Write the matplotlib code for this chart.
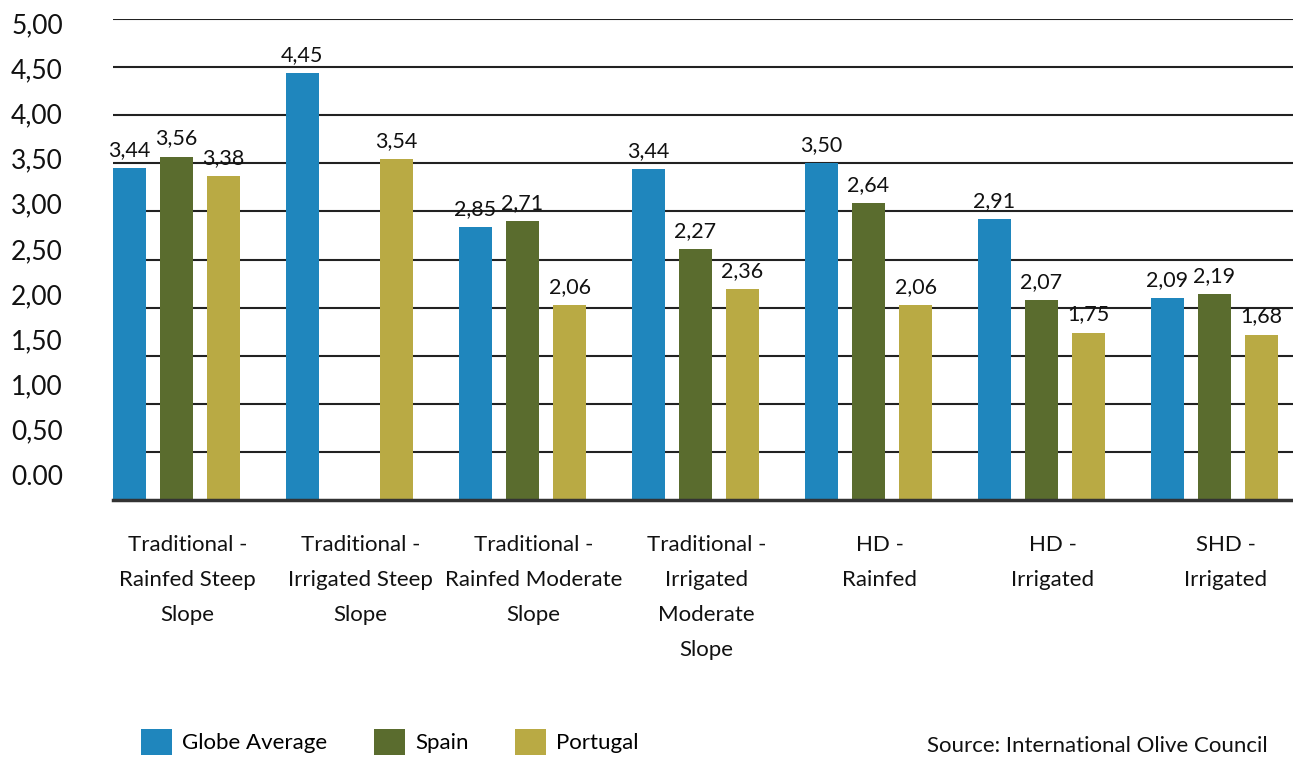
import matplotlib
matplotlib.use("Agg")
import matplotlib.pyplot as plt
from matplotlib.patches import Patch
import numpy as np

categories = [
    "Traditional -\nRainfed Steep\nSlope",
    "Traditional -\nIrrigated Steep\nSlope",
    "Traditional -\nRainfed Moderate\nSlope",
    "Traditional -\nIrrigated\nModerate\nSlope",
    "HD -\nRainfed",
    "HD -\nIrrigated",
    "SHD -\nIrrigated",
]
series_names = ["Globe Average", "Spain", "Portugal"]

# bar heights as drawn in the picture
globe_heights = [3.45, 4.44, 2.84, 3.44, 3.50, 2.92, 2.10]
spain_heights = [3.57, 0.0, 2.90, 2.61, 3.09, 2.08, 2.14]
portugal_heights = [3.37, 3.54, 2.03, 2.19, 2.03, 1.74, 1.72]

# value labels as printed above the bars
globe_labels = ["3,44", "4,45", "2,85", "3,44", "3,50", "2,91", "2,09"]
spain_labels = ["3,56", "", "2,71", "2,27", "2,64", "2,07", "2,19"]
portugal_labels = ["3,38", "3,54", "2,06", "2,36", "2,06", "1,75", "1,68"]

ytick_labels = ["0.00", "0,50", "1,00", "1,50", "2,00", "2,50",
                "3,00", "3,50", "4,00", "4,50", "5,00"]

colors = ["#1f86bd", "#5a6c2e", "#b9aa44"]


def main():
    plt.rcParams["font.family"] = ["Lato", "DejaVu Sans"]
    fig = plt.figure(figsize=(12.93, 7.6), dpi=100)
    ax = fig.add_axes([113 / 1293, 1 - 500 / 760, 1 - 113 / 1293, (500 - 19) / 760])

    x = np.arange(len(categories))
    offset = 0.272
    width = 0.191
    all_heights = [globe_heights, spain_heights, portugal_heights]
    all_labels = [globe_labels, spain_labels, portugal_labels]

    for k, (h, lab) in enumerate(zip(all_heights, all_labels)):
        pos = x + (k - 1) * offset
        ax.bar(pos, h, width=width, color=colors[k], zorder=3)
        for px, py, t in zip(pos, h, lab):
            if t:
                ax.annotate(t, (px, py), xytext=(0, 13), textcoords="offset points",
                            ha="center", va="center", fontsize=15.5, color="#111111")

    # grid lines every 0.5
    for g in np.arange(0.5, 5.01, 0.5):
        ax.axhline(g, color="#222222", lw=1.5, zorder=1)

    ax.set_xlim(-0.367, 6.454)
    ax.set_ylim(0, 5)

    # the y labels in the source sit slightly off the grid lines
    ax.set_yticks(np.linspace(0.26, 4.96, len(ytick_labels)))
    ax.set_yticklabels(ytick_labels, fontsize=19, color="#111111")
    ax.tick_params(axis="y", length=0, pad=36)

    ax.set_xticks(x + 0.065)
    ax.set_xticklabels(categories, fontsize=16, color="#111111", linespacing=1.95, va="top")
    ax.tick_params(axis="x", length=0, pad=25)

    for s in ["top", "right", "left"]:
        ax.spines[s].set_visible(False)
    ax.spines["bottom"].set_color("#333333")
    ax.spines["bottom"].set_linewidth(2.5)
    ax.spines["bottom"].set_zorder(4)

    handles = [Patch(facecolor=c, edgecolor="none") for c in colors]
    fig.legend(handles, series_names, loc="center left", bbox_to_anchor=(141 / 1293, 1 - 742 / 760),
               ncol=3, frameon=False, fontsize=16, handlelength=1.4, handleheight=1.4,
               handletextpad=0.45, columnspacing=2.1, borderpad=0, borderaxespad=0)

    fig.text(1268 / 1293, 1 - 746 / 760, "Source: International Olive Council",
             ha="right", va="center", fontsize=16, color="#111111")

    fig.savefig("out.png", dpi=100)


if __name__ == "__main__":
    main()
